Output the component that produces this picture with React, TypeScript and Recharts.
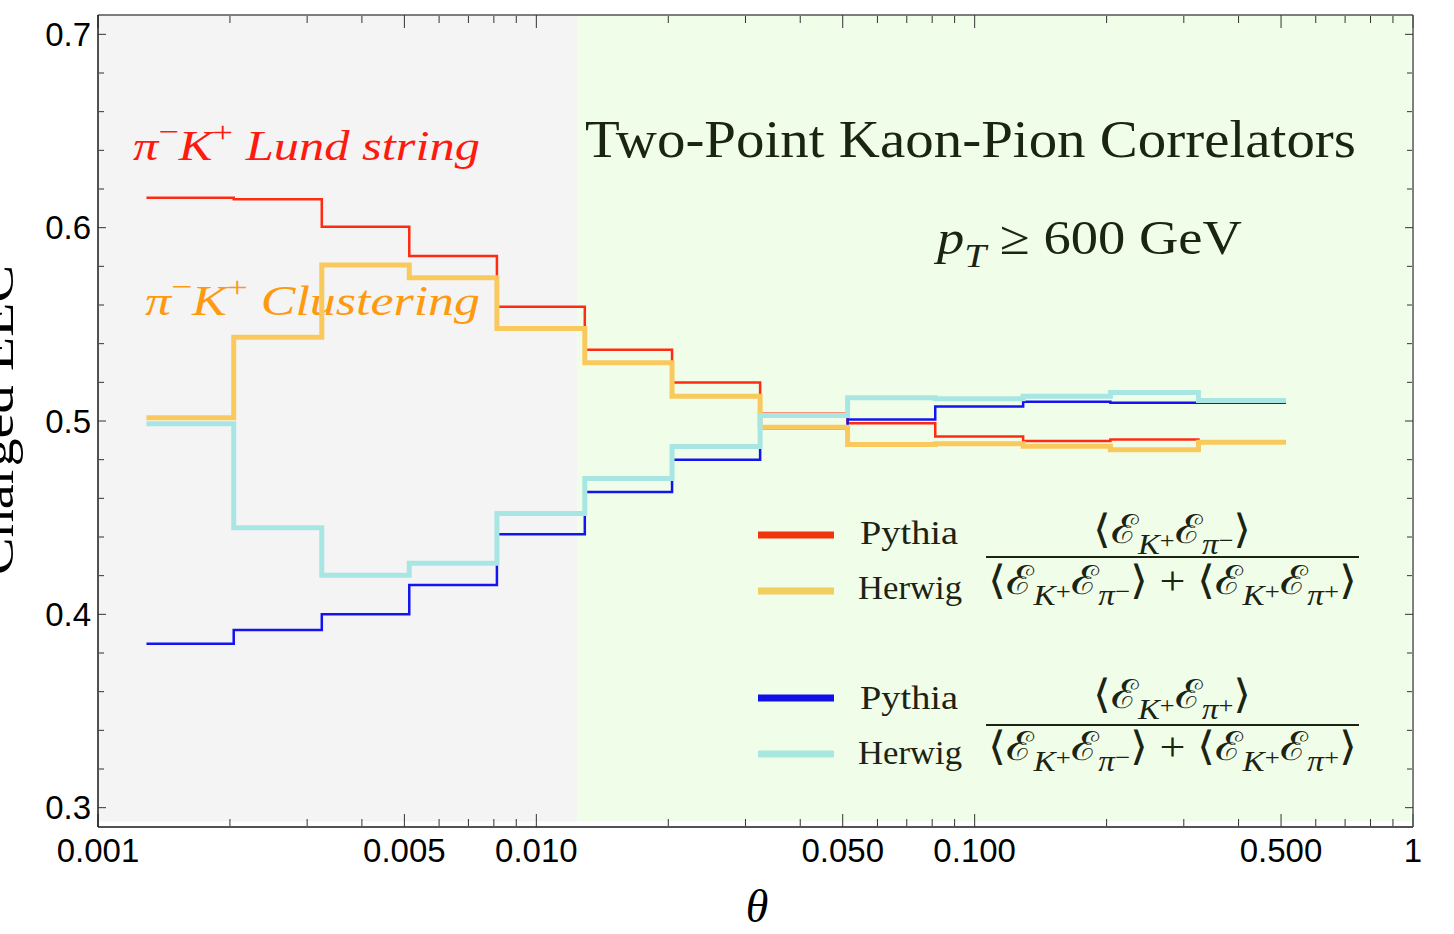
import { ComposedChart, Line, XAxis, YAxis, ReferenceArea } from 'recharts';

// bin edges in theta (log-spaced), 13 bins
const binEdges = [0.00129, 0.00204, 0.00324, 0.00513, 0.00813, 0.0129, 0.0204, 0.0324, 0.0513, 0.0813, 0.129, 0.204, 0.324, 0.513];

const pythiaMinus = [0.6155, 0.6147, 0.6005, 0.5853, 0.5591, 0.5369, 0.5199, 0.5037, 0.4989, 0.492, 0.4896, 0.4904, 0.489];
const herwigMinus = [0.5017, 0.5433, 0.5807, 0.5741, 0.5479, 0.5301, 0.5128, 0.4968, 0.4879, 0.4882, 0.487, 0.4851, 0.489];
const pythiaPlus = [0.3848, 0.3919, 0.4, 0.4152, 0.4414, 0.4633, 0.48, 0.4963, 0.5008, 0.5075, 0.5099, 0.5094, 0.5094];
const herwigPlus = [0.4986, 0.4448, 0.4202, 0.4264, 0.4522, 0.4702, 0.4868, 0.5028, 0.512, 0.5115, 0.5128, 0.5147, 0.5106];

const xMajorTicks = [0.001, 0.005, 0.01, 0.05, 0.1, 0.5, 1];
const xTickLabels = ['0.001', '0.005', '0.010', '0.050', '0.100', '0.500', '1'];
const xMinorTicks = [0.002, 0.003, 0.004, 0.006, 0.007, 0.008, 0.009, 0.02, 0.03, 0.04, 0.06, 0.07, 0.08, 0.09, 0.2, 0.3, 0.4, 0.6, 0.7, 0.8, 0.9];
const yMajorTicks = [0.3, 0.4, 0.5, 0.6, 0.7];
const yMinorTicks = [0.32, 0.34, 0.36, 0.38, 0.42, 0.44, 0.46, 0.48, 0.52, 0.54, 0.56, 0.58, 0.62, 0.64, 0.66, 0.68];

const shadeSplit = 0.0124;

const last = pythiaMinus.length - 1;
const data = binEdges.map((x, i) => ({
  x,
  pm: pythiaMinus[Math.min(i, last)],
  hm: herwigMinus[Math.min(i, last)],
  pp: pythiaPlus[Math.min(i, last)],
  hp: herwigPlus[Math.min(i, last)],
}));

const SERIF = '"Liberation Serif", "DejaVu Serif", serif';
const SANS = '"Liberation Sans", Arial, sans-serif';
const INK = '#1b2313';

// level: 0 base, 1 subscript, 2 raised inside subscript, 3 superscript
const OFF = [0, 0.28, 0.12, -0.42];
const SZ = [1, 0.72, 0.58, 0.72];

type Part = { t: string; lv?: number; it?: boolean };

function MathText({ x, y, size, parts, anchor = 'start', fill = INK, len }: { x: number; y: number; size: number; parts: Part[]; anchor?: string; fill?: string; len?: number }) {
  let prev = 0;
  return (
    <text x={x} y={y} textAnchor={anchor} fontFamily={SERIF} fill={fill} fontSize={size} textLength={len} lengthAdjust={len ? 'spacingAndGlyphs' : undefined}>
      {parts.map((p, i) => {
        const lv = p.lv ?? 0;
        const off = OFF[lv] * size;
        const dy = off - prev;
        prev = off;
        return (
          <tspan key={i} dy={dy} fontSize={SZ[lv] * size} fontStyle={p.it ? 'italic' : 'normal'}>
            {p.t}
          </tspan>
        );
      })}
    </text>
  );
}

const E = (sub: string, sign: string): Part[] => [
  { t: 'ℰ' },
  { t: sub, lv: 1, it: true },
  { t: sign, lv: 2 },
];

const numMinus: Part[] = [{ t: '⟨' }, ...E('K', '+'), ...E('π', '−'), { t: '⟩', lv: 0 }];
const numPlus: Part[] = [{ t: '⟨' }, ...E('K', '+'), ...E('π', '+'), { t: '⟩', lv: 0 }];
const denom: Part[] = [{ t: '⟨' }, ...E('K', '+'), ...E('π', '−'), { t: '⟩ + ⟨', lv: 0 }, ...E('K', '+'), ...E('π', '+'), { t: '⟩', lv: 0 }];

// texts and legend drawn inside the plot, above the shading
function Annotations() {
  return (
    <g>
      <MathText x={133} y={160} size={42} fill="#ff1a10" len={347} parts={[{ t: 'π', it: true }, { t: '−', lv: 3 }, { t: 'K', it: true }, { t: '+', lv: 3 }, { t: '  Lund string', it: true }]} />
      <MathText x={145} y={315} size={42} fill="#ff9a10" len={335} parts={[{ t: 'π', it: true }, { t: '−', lv: 3 }, { t: 'K', it: true }, { t: '+', lv: 3 }, { t: '  Clustering', it: true }]} />

      <text x={585} y={157} fontFamily={SERIF} fontSize={52} fill={INK} textLength={771} lengthAdjust="spacingAndGlyphs">
        Two-Point Kaon-Pion Correlators
      </text>
      <MathText x={937} y={254} size={48} len={305} parts={[{ t: 'p', it: true }, { t: 'T', lv: 1, it: true }, { t: ' ≥ 600 GeV', lv: 0 }]} />

      <line x1={758} x2={834} y1={535} y2={535} stroke="#f2340c" strokeWidth={7} />
      <line x1={758} x2={834} y1={591} y2={591} stroke="#f2cd60" strokeWidth={7} />
      <line x1={758} x2={834} y1={698} y2={698} stroke="#1010e8" strokeWidth={7} />
      <line x1={758} x2={834} y1={754} y2={754} stroke="#a8e8e0" strokeWidth={7} />
      <text x={860} y={544} fontFamily={SERIF} fontSize={34} fill={INK} textLength={98} lengthAdjust="spacingAndGlyphs">Pythia</text>
      <text x={858} y={599} fontFamily={SERIF} fontSize={34} fill={INK} textLength={104} lengthAdjust="spacingAndGlyphs">Herwig</text>
      <text x={860} y={709} fontFamily={SERIF} fontSize={34} fill={INK} textLength={98} lengthAdjust="spacingAndGlyphs">Pythia</text>
      <text x={858} y={764} fontFamily={SERIF} fontSize={34} fill={INK} textLength={104} lengthAdjust="spacingAndGlyphs">Herwig</text>

      <MathText x={1093} y={543} size={40} len={158} parts={numMinus} />
      <line x1={986} x2={1359} y1={557} y2={557} stroke={INK} strokeWidth={2} />
      <MathText x={988} y={594} size={40} len={369} parts={denom} />
      <MathText x={1093} y={708} size={40} len={158} parts={numPlus} />
      <line x1={986} x2={1359} y1={725} y2={725} stroke={INK} strokeWidth={2} />
      <MathText x={988} y={760} size={40} len={369} parts={denom} />
    </g>
  );
}

export default function App() {
  return (
    <div style={{ position: 'absolute', left: 0, top: 0 }}>
      <ComposedChart width={1454} height={934} data={data} margin={{ top: 15, right: 41, bottom: 0, left: 0 }}>
        <ReferenceArea xAxisId="b" yAxisId="l" x1={0.001} x2={shadeSplit} y1={0.2928} y2={0.71} fill="#f4f4f4" fillOpacity={1} stroke="none" ifOverflow="visible" />
        <ReferenceArea xAxisId="b" yAxisId="l" x1={shadeSplit} x2={0.99} y1={0.2928} y2={0.71} fill="#f0fde8" fillOpacity={1} stroke="none" ifOverflow="visible" label={<Annotations />} />

        <XAxis
          xAxisId="b"
          dataKey="x"
          type="number"
          scale="log"
          domain={[0.001, 1]}
          allowDataOverflow
          ticks={xMajorTicks}
          interval={0}
          tickFormatter={(v: number) => xTickLabels[xMajorTicks.indexOf(v)] ?? ''}
          tickLine={false}
          tickSize={0}
          tickMargin={12}
          height={107}
          axisLine={{ stroke: '#1a1a1a', strokeWidth: 1.5 }}
          tick={{ fontFamily: SANS, fontSize: 33, fill: '#000' }}
        />
        <XAxis xAxisId="bMaj" dataKey="x" type="number" scale="log" domain={[0.001, 1]} allowDataOverflow orientation="bottom" mirror height={1} ticks={xMajorTicks} interval={0} tick={() => <g />} tickSize={13} axisLine={false} tickLine={{ stroke: '#333' }} />
        <XAxis xAxisId="bMin" dataKey="x" type="number" scale="log" domain={[0.001, 1]} allowDataOverflow orientation="bottom" mirror height={1} ticks={xMinorTicks} interval={0} tick={() => <g />} tickSize={7} axisLine={false} tickLine={{ stroke: '#333' }} />
        <XAxis xAxisId="tMaj" dataKey="x" type="number" scale="log" domain={[0.001, 1]} allowDataOverflow orientation="top" mirror height={1} ticks={xMajorTicks} interval={0} tick={() => <g />} tickSize={13} axisLine={{ stroke: '#555', strokeWidth: 1.5 }} tickLine={{ stroke: '#333' }} />
        <XAxis xAxisId="tMin" dataKey="x" type="number" scale="log" domain={[0.001, 1]} allowDataOverflow orientation="top" mirror height={1} ticks={xMinorTicks} interval={0} tick={() => <g />} tickSize={7} axisLine={false} tickLine={{ stroke: '#333' }} />

        <YAxis
          yAxisId="l"
          type="number"
          domain={[0.29, 0.71]}
          allowDataOverflow
          ticks={yMajorTicks}
          interval={0}
          tickFormatter={(v: number) => v.toFixed(1)}
          tickLine={false}
          tickSize={0}
          tickMargin={7}
          width={98}
          axisLine={{ stroke: '#1a1a1a', strokeWidth: 1.5 }}
          tick={{ fontFamily: SANS, fontSize: 33, fill: '#000' }}
        />
        <YAxis yAxisId="lMaj" type="number" domain={[0.29, 0.71]} allowDataOverflow orientation="left" mirror width={1} ticks={yMajorTicks} interval={0} tick={() => <g />} tickSize={8} axisLine={false} tickLine={{ stroke: '#333' }} />
        <YAxis yAxisId="lMin" type="number" domain={[0.29, 0.71]} allowDataOverflow orientation="left" mirror width={1} ticks={yMinorTicks} interval={0} tick={() => <g />} tickSize={5} axisLine={false} tickLine={{ stroke: '#333' }} />
        <YAxis yAxisId="rMaj" type="number" domain={[0.29, 0.71]} allowDataOverflow orientation="right" mirror width={1} ticks={yMajorTicks} interval={0} tick={() => <g />} tickSize={8} axisLine={{ stroke: '#555', strokeWidth: 1.5 }} tickLine={{ stroke: '#333' }} />
        <YAxis yAxisId="rMin" type="number" domain={[0.29, 0.71]} allowDataOverflow orientation="right" mirror width={1} ticks={yMinorTicks} interval={0} tick={() => <g />} tickSize={5} axisLine={false} tickLine={{ stroke: '#333' }} />

        <Line xAxisId="b" yAxisId="l" dataKey="pm" type="stepAfter" stroke="#ff2a12" strokeWidth={2.5} dot={false} isAnimationActive={false} />
        <Line xAxisId="b" yAxisId="l" dataKey="pp" type="stepAfter" stroke="#1414f0" strokeWidth={2.5} dot={false} isAnimationActive={false} />
        <Line xAxisId="b" yAxisId="l" dataKey="hm" type="stepAfter" stroke="#f9c95e" strokeWidth={5} dot={false} isAnimationActive={false} />
        <Line xAxisId="b" yAxisId="l" dataKey="hp" type="stepAfter" stroke="#a8e6e4" strokeWidth={5} dot={false} isAnimationActive={false} />

        <text x={757} y={922} textAnchor="middle" fontFamily={SERIF} fontStyle="italic" fontSize={46} fill="#000">θ</text>
        <text transform="translate(13,420) rotate(-90)" textAnchor="middle" fontFamily={SERIF} fontSize={46} fill="#000" textLength={310} lengthAdjust="spacingAndGlyphs">
          Charged EEC
        </text>
      </ComposedChart>
    </div>
  );
}
